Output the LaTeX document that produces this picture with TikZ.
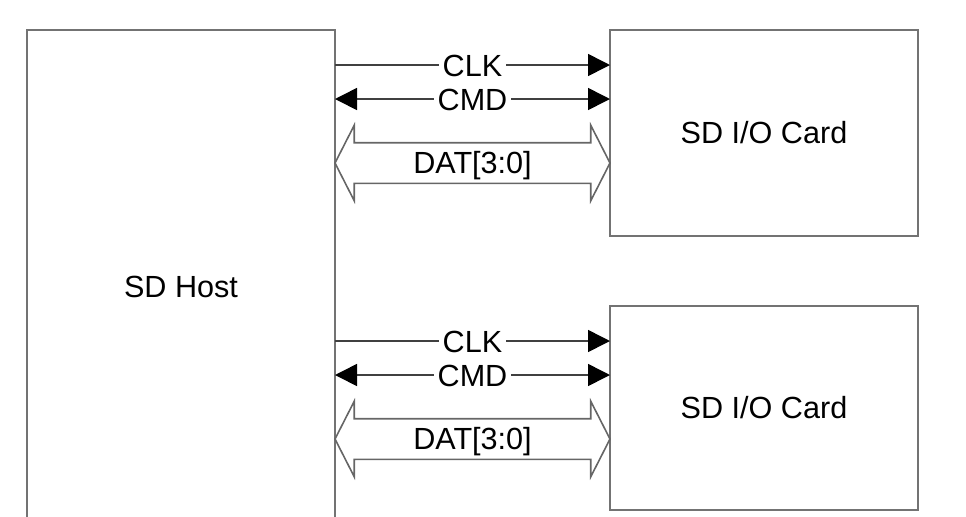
\documentclass[tikz,border=0pt]{standalone}
\usepackage{fontspec}
\setmainfont{Liberation Sans}
\usetikzlibrary{calc,arrows.meta,shapes.arrows}
\usetikzlibrary{positioning}

\begin{document}
\begin{tikzpicture}[x=0.5pt,y=-0.5pt,
    txt/.style={font=\fontsize{15.3}{18}\selectfont},
    box/.style={txt,draw=black!55,line width=1.1pt,inner sep=0pt,outer sep=0pt,
      minimum width=154pt,minimum height=103pt},
    sig/.style={draw=black!75,line width=0.8pt},
    tip/.style={-{Triangle[length=11pt,width=11pt,color=black]}},
    tips/.style={{Triangle[length=11pt,width=11pt,color=black]}-{Triangle[length=11pt,width=11pt,color=black]}},
    lbl/.style={txt,fill=white,inner xsep=2pt,inner ysep=1pt,
      text height=11pt,text depth=0pt},
    bus/.style={txt,shape=double arrow,draw=black!60,line width=0.8pt,
      double arrow tip angle=126,double arrow head extend=8.75pt,
      inner xsep=0pt,inner ysep=0pt,text height=15pt,text depth=4.5pt,
      minimum height=137.5pt}]
 \useasboundingbox (0,0) rectangle (966,516);
 \clip (0,0) rectangle (966,516);
 \node[box,minimum height=257pt] (host) at (181,287) {SD Host};
 \node[box,below right=0pt and 137.5pt of host.north east] (card1) {SD I/O Card};
 \node[box,minimum height=102pt,below=35pt of card1] (card2) {SD I/O Card};
 \foreach \n in {1,2} {
  \coordinate (clk\n) at ($(card\n.north west)+(0,35)$);
  \coordinate (cmd\n) at ($(card\n.north west)+(0,69)$);
  \coordinate (dat\n) at ($(card\n.north west)+(0,133)$);
  \draw[sig,tip] (host.east |- clk\n) -- (clk\n) node[lbl,midway] {CLK};
  \draw[sig,tips] (host.east |- cmd\n) -- (cmd\n) node[lbl,midway] {CMD};
  \node[bus] (bus\n) at ($(host.east |- dat\n)!0.5!(dat\n)$) {DAT[3:0]};
 }
\end{tikzpicture}
\end{document}
